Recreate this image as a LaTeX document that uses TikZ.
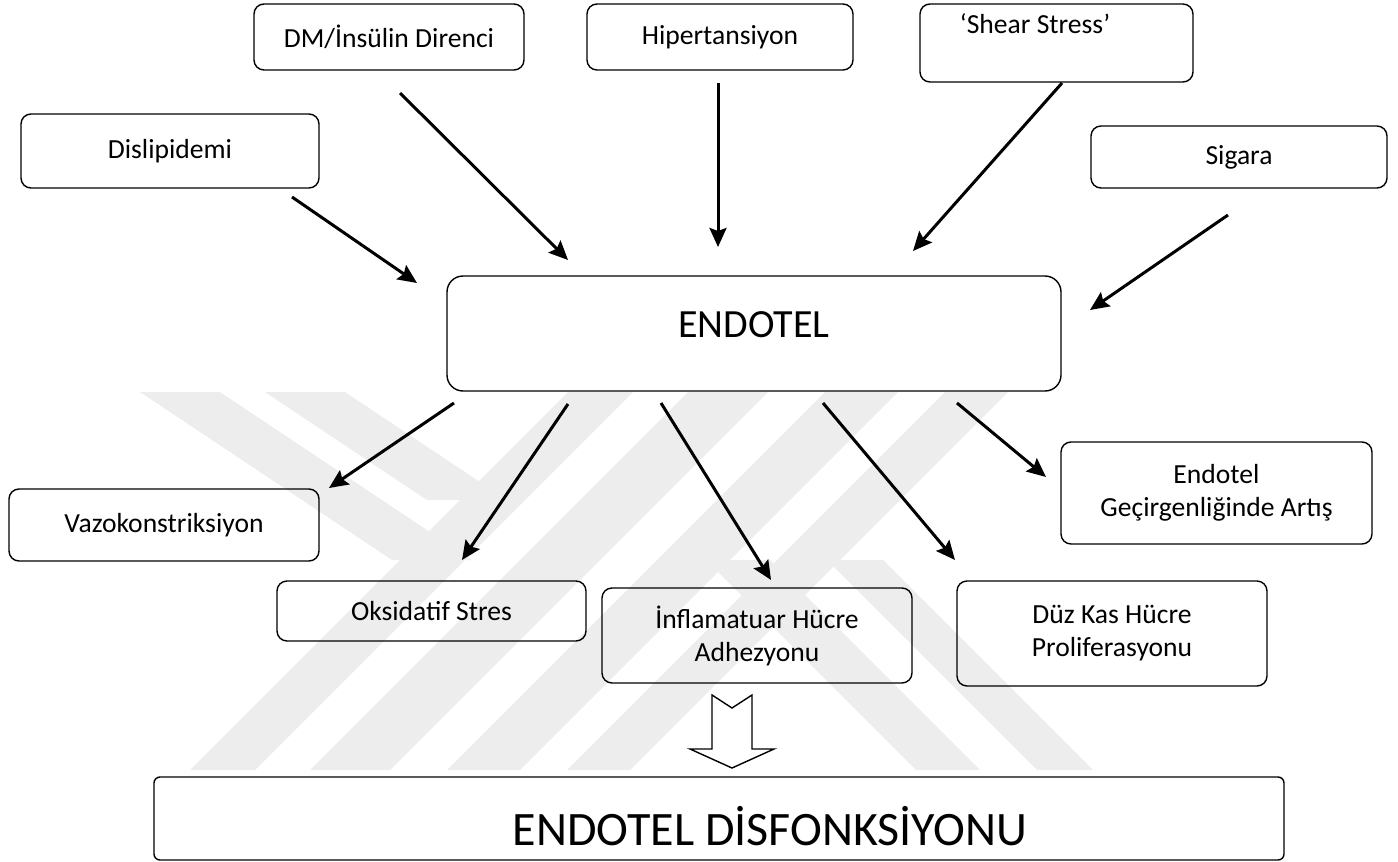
\documentclass[tikz,border=0pt]{standalone}
\usepackage{fontspec}
\setmainfont{Carlito}
\usetikzlibrary{arrows.meta}
\begin{document}
\begin{tikzpicture}[x=0.5pt,y=-0.5pt,
  box/.style={draw, line width=0.7pt, rounded corners=5pt, inner sep=0pt, align=center,
              font=\fontsize{13.8}{16.5}\selectfont},
  arr/.style={line width=1.5pt, -{Stealth[length=9.5pt,width=8.5pt,inset=1.5pt]}},
  wm/.style={fill=black!7, draw=none},
  lbl/.style={inner sep=0pt, font=\fontsize{13.8}{16.5}\selectfont}]
\useasboundingbox (0,0) rectangle (1398,862);

% faint watermark bands
\fill[wm] (568,392) -- (633,392) -- (255,770) -- (190,770) -- cycle;
\fill[wm] (688,392) -- (768,392) -- (390,770) -- (310,770) -- cycle;
\fill[wm] (825,392) -- (898,392) -- (520,770) -- (447,770) -- cycle;
\fill[wm] (945,392) -- (1008,392) -- (630,770) -- (567,770) -- cycle;
\fill[wm] (140,392) -- (220,392) -- (472,560) -- (392,560) -- cycle;
\fill[wm] (265,392) -- (345,392) -- (507,500) -- (427,500) -- cycle;
\fill[wm] (706,560) -- (770,560) -- (980,770) -- (916,770) -- cycle;
\fill[wm] (827,560) -- (883,560) -- (1093,770) -- (1037,770) -- cycle;

% top boxes
\node[box, minimum width=149pt, minimum height=37pt] (dis) at (170,151) {Dislipidemi};
\node[box, minimum width=135pt, minimum height=33pt] (dm) at (389,37) {DM/İnsülin Direnci};
\node[box, minimum width=133pt, minimum height=33pt] (hip) at (720,37) {Hipertansiyon};
\node[box, minimum width=136.5pt, minimum height=39pt] (shear) at (1056.5,43) {};
\node[lbl] (sheart) at (1035,24) {‘Shear Stress’};
\node[box, minimum width=148pt, minimum height=31pt] (sig) at (1239,157) {Sigara};

% centre box
\node[box, rounded corners=8pt, minimum width=307pt, minimum height=57.5pt] (endo) at (754,333.5) {};
\node[inner sep=0pt, font=\fontsize{20}{24}\selectfont] (endot) at (754,325) {ENDOTEL};

% bottom boxes
\node[box, minimum width=155pt, minimum height=36pt] (vazo) at (164,525) {Vazokonstriksiyon};
\node[box, minimum width=154.5pt, minimum height=30pt] (oks) at (431.5,611) {Oksidatif Stres};
\node[box, minimum width=155pt, minimum height=47.5pt] (inf) at (757,635.5) {İnflamatuar Hücre\\Adhezyonu};
\node[box, minimum width=155pt, minimum height=52.5pt] (duz) at (1112,633.5) {Düz Kas Hücre\\Proliferasyonu};
\node[box, minimum width=155.5pt, minimum height=51pt] (gec) at (1216.5,493) {Endotel\\Geçirgenliğinde Artış};

% final box
\node[box, rounded corners=3pt, minimum width=565pt, minimum height=41.5pt] (disf) at (719,818.5) {};
\node[inner sep=0pt, font=\fontsize{24}{28}\selectfont] (disft) at (770,826) {ENDOTEL DİSFONKSİYONU};

% arrow end points
\coordinate (a1s) at (292,197);  \coordinate (a1e) at (417,283);
\coordinate (a2s) at (400,93);   \coordinate (a2e) at (568,260);
\coordinate (a3s) at (718,83);   \coordinate (a3e) at (718,247);
\coordinate (a4s) at (1062,83);  \coordinate (a4e) at (913,251);
\coordinate (a5s) at (1228,215); \coordinate (a5e) at (1090,310);
\coordinate (b1s) at (454,403);  \coordinate (b1e) at (329,488);
\coordinate (b2s) at (568,404);  \coordinate (b2e) at (462,560);
\coordinate (b3s) at (661,403);  \coordinate (b3e) at (771,580);
\coordinate (b4s) at (823,403);  \coordinate (b4e) at (955,560);
\coordinate (b5s) at (957,403);  \coordinate (b5e) at (1046,477);

\draw[arr] (a1s) -- (a1e);
\draw[arr] (a2s) -- (a2e);
\draw[arr] (a3s) -- (a3e);
\draw[arr] (a4s) -- (a4e);
\draw[arr] (a5s) -- (a5e);
\draw[arr] (b1s) -- (b1e);
\draw[arr] (b2s) -- (b2e);
\draw[arr] (b3s) -- (b3e);
\draw[arr] (b4s) -- (b4e);
\draw[arr] (b5s) -- (b5e);

% notched block arrow
\draw[line width=0.7pt, fill=white, line join=miter]
  (712,695) -- (732,708) -- (752,695) -- (752,749) -- (774,749) -- (732,768)
  -- (690,749) -- (712,749) -- cycle;
\end{tikzpicture}
\end{document}
